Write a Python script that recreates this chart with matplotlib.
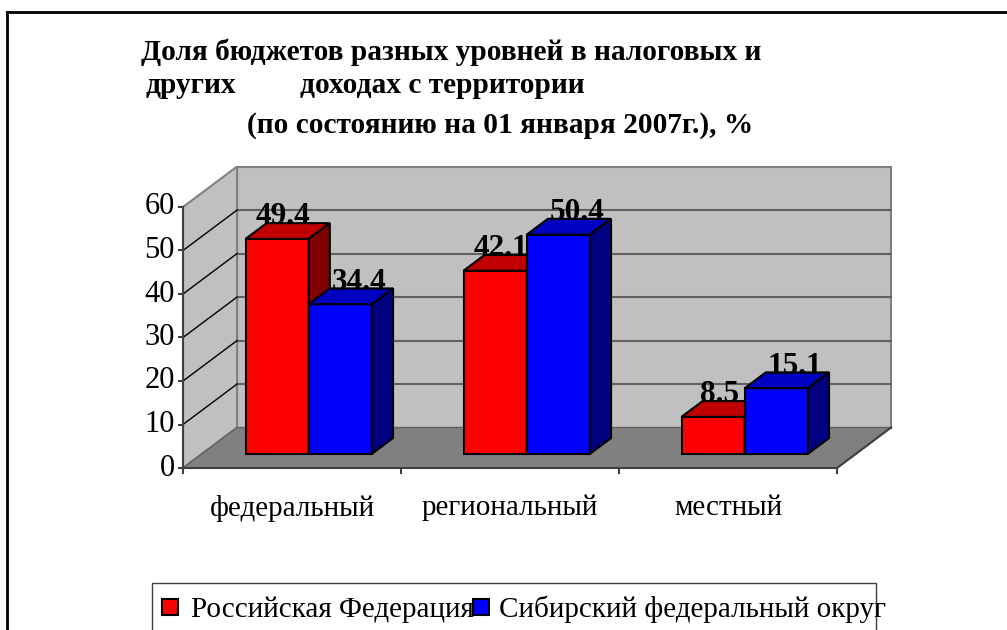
import matplotlib
matplotlib.use("Agg")
import matplotlib.pyplot as plt
from matplotlib.patches import Polygon, Rectangle
from matplotlib.lines import Line2D
from matplotlib.transforms import offset_copy

plt.rcParams["font.family"] = ["Liberation Serif", "DejaVu Serif"]

# data
categories = ["федеральный", "региональный", "местный"]
series_names = ["Российская Федерация", "Сибирский федеральный округ"]
rf_values = [49.4, 42.1, 8.5]
sfo_values = [34.4, 50.4, 15.1]
yticks = [0, 10, 20, 30, 40, 50, 60]

title_lines = [
    "Доля бюджетов разных уровней в налоговых и",
    "других",
    "доходах с территории",
    "(по состоянию на 01 января 2007г.), %",
]

W, H = 1007, 630
fig = plt.figure(figsize=(W / 100, H / 100), dpi=100)
fig.patch.set_facecolor("white")


def fx(px):
    return px / W


def fy(py):
    return 1 - py / H


# chart frame (clipped at right and bottom)
fig.add_artist(Line2D([fx(7), fx(1010)], [fy(12), fy(12)], color="black", lw=2))
fig.add_artist(Line2D([fx(7), fx(7)], [fy(12), fy(640)], color="black", lw=2))

# title
tfs = 21.2
fig.text(fx(141), fy(60), title_lines[0], fontsize=tfs, fontweight="bold", va="baseline")
fig.text(fx(146), fy(93), title_lines[1], fontsize=tfs, fontweight="bold", va="baseline")
fig.text(fx(300), fy(93), title_lines[2], fontsize=tfs, fontweight="bold", va="baseline")
fig.text(fx(247), fy(133), title_lines[3], fontsize=tfs, fontweight="bold", va="baseline")

# plot area: front plane of the 3D box
ax = fig.add_axes([fx(183), fy(468), (837 - 183) / W, (468 - 207) / H])
ax.set_xlim(0, 3)
ax.set_ylim(0, 60)
ax.axis("off")

DX, DY = 0.248, 9.3     # full depth of the box, in data units
f0, f1 = 0.35, 0.74     # front / back of the bars as depth fraction
ncat = len(categories)
ytop = yticks[-1]

wall = "#c0c0c0"
edge = "#808080"

# floor
ax.add_patch(Polygon([(0, 0), (ncat, 0), (ncat + DX, DY), (DX, DY)],
                     closed=True, fc="#808080", ec="#606060", lw=1, zorder=1, clip_on=False))
# back wall
ax.add_patch(Polygon([(DX, DY), (ncat + DX, DY), (ncat + DX, ytop + DY), (DX, ytop + DY)],
                     closed=True, fc=wall, ec=edge, lw=1.5, zorder=0, clip_on=False))
# left wall
ax.add_patch(Polygon([(0, 0), (DX, DY), (DX, ytop + DY), (0, ytop)],
                     closed=True, fc=wall, ec=edge, lw=1.5, zorder=0, clip_on=False))

for v in yticks[1:-1]:
    ax.plot([DX, ncat + DX], [v + DY, v + DY], color="#606060", lw=1.5, zorder=1, clip_on=False)
    ax.plot([0, DX], [v, v + DY], color="black", lw=1, zorder=1, clip_on=False)

# axes lines
ax.plot([0, 0], [0, ytop], color="#404040", lw=1.5, zorder=2, clip_on=False)
ax.plot([0, ncat], [0, 0], color="#404040", lw=1.5, zorder=2, clip_on=False)
ax.plot([ncat, ncat + DX], [0, DY], color="#404040", lw=1.5, zorder=2, clip_on=False)

# ticks and tick labels
tick_lab = offset_copy(ax.transData, fig=fig, x=-8, y=0, units="dots")
for v in yticks:
    ax.add_line(Line2D([-0.02, 0], [v, v], color="#404040", lw=1.5, clip_on=False))
    ax.text(0, v, str(v), transform=tick_lab, ha="right", va="center", fontsize=22)
for i in range(ncat + 1):
    ax.add_line(Line2D([i, i], [0, -1.2], color="#404040", lw=1.5, clip_on=False))

cat_lab = offset_copy(ax.get_xaxis_transform(), fig=fig, x=0, y=-40, units="dots")
for i, c in enumerate(categories):
    ax.text(i + 0.5, 0, c, transform=cat_lab, ha="center", va="center", fontsize=21)

# bars
bw = 0.29
g0 = 0.2
styles = [("#ff0000", "#c00000", "#800000"), ("#0000ff", "#0000c0", "#000080")]
label_shift = [0.3, 0.9]   # label position across the bar depth, per series
z = 3
for i in range(ncat):
    for s, vals in enumerate([rf_values, sfo_values]):
        v = vals[i]
        front, top, side = styles[s]
        x0 = i + g0 + s * bw + f0 * DX
        x1 = x0 + bw
        b0 = f0 * DY
        ddx, ddy = (f1 - f0) * DX, (f1 - f0) * DY
        ax.bar(x0, v, width=bw, bottom=b0, align="edge", color=front,
               edgecolor="black", lw=1.5, zorder=z, clip_on=False)
        ax.add_patch(Polygon([(x0, b0 + v), (x1, b0 + v), (x1 + ddx, b0 + v + ddy), (x0 + ddx, b0 + v + ddy)],
                             closed=True, fc=top, ec="black", lw=1.5, zorder=z, clip_on=False))
        ax.add_patch(Polygon([(x1, b0), (x1 + ddx, b0 + ddy), (x1 + ddx, b0 + v + ddy), (x1, b0 + v)],
                             closed=True, fc=side, ec="black", lw=1.5, zorder=z, clip_on=False))
        ax.text((x0 + x1) / 2 + ddx * label_shift[s], b0 + v + ddy - 0.3, f"{v:.1f}",
                ha="center", va="baseline", fontsize=22.5, fontweight="bold", zorder=20)
        z += 1

# legend
fig.add_artist(Rectangle((fx(152), fy(640)), (876 - 152) / W, (640 - 583) / H,
                         transform=fig.transFigure, fill=False, ec="#404040", lw=1))
legend_x = [(162, 191), (473, 499)]
for s, name in enumerate(series_names):
    sx, tx = legend_x[s]
    fig.add_artist(Rectangle((fx(sx), fy(615)), 16 / W, 16 / H, transform=fig.transFigure,
                             fc=styles[s][0], ec="black", lw=1.5))
    fig.text(fx(tx), fy(617), name, fontsize=21, va="baseline")

fig.savefig("out.png", dpi=100)
